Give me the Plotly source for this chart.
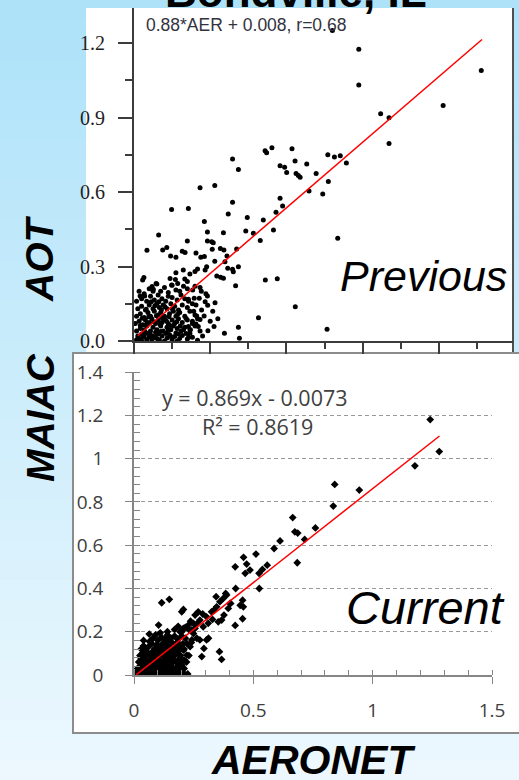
import plotly.graph_objects as go

W, H = 519, 780

# ---------------- data: "Previous" panel (MAIAC vs AERONET AOT) ----------------
PREV_OUTER = [
    (0.781, 1.250), (0.885, 1.175), (0.885, 1.031), (1.367, 1.089), (1.217, 0.948),
    (0.971, 0.915), (1.004, 0.899), (1.004, 0.795), (0.622, 0.774), (0.634, 0.725),
    (0.680, 0.713), (0.763, 0.750), (0.789, 0.741), (0.812, 0.746), (0.836, 0.717),
    (0.717, 0.675), (0.575, 0.706), (0.593, 0.700), (0.601, 0.679), (0.638, 0.675),
    (0.647, 0.666), (0.654, 0.659), (0.765, 0.642), (0.575, 0.575), (0.585, 0.544),
    (0.689, 0.604), (0.743, 0.592), (0.802, 0.414), (0.635, 0.138), (0.760, 0.047),
    (0.388, 0.733), (0.411, 0.691), (0.516, 0.766), (0.522, 0.758), (0.543, 0.778),
]
PREV_MID = [
    (0.260, 0.617), (0.318, 0.626), (0.148, 0.530), (0.214, 0.534), (0.388, 0.559),
    (0.371, 0.511), (0.446, 0.497), (0.277, 0.481), (0.509, 0.487), (0.559, 0.518),
    (0.549, 0.447), (0.097, 0.427), (0.289, 0.439), (0.352, 0.436), (0.440, 0.443),
    (0.470, 0.434), (0.497, 0.405), (0.210, 0.403), (0.289, 0.403), (0.306, 0.400),
    (0.312, 0.396), (0.051, 0.365), (0.129, 0.377), (0.113, 0.366), (0.190, 0.361),
    (0.201, 0.356), (0.244, 0.354), (0.263, 0.337), (0.277, 0.340), (0.308, 0.369),
    (0.340, 0.373), (0.354, 0.366), (0.404, 0.370), (0.318, 0.321), (0.366, 0.342),
    (0.358, 0.319), (0.369, 0.293), (0.388, 0.289), (0.391, 0.279), (0.411, 0.299),
    (0.400, 0.222), (0.286, 0.299), (0.280, 0.286), (0.326, 0.262), (0.341, 0.257),
    (0.352, 0.253), (0.517, 0.246), (0.564, 0.251), (0.490, 0.094), (0.411, 0.055),
    (0.356, 0.031), (0.415, 0.011), (0.315, 0.058), (0.291, 0.041), (0.319, 0.154),
    (0.289, 0.181), (0.290, 0.144), (0.257, 0.172), (0.280, 0.158), (0.276, 0.101),
    (0.244, 0.145), (0.247, 0.101), (0.260, 0.087), (0.244, 0.068), (0.253, 0.058),
    (0.214, 0.168), (0.231, 0.205), (0.237, 0.172), (0.205, 0.091), (0.214, 0.058),
    (0.220, 0.031), (0.039, 0.256), (0.034, 0.246), (0.087, 0.232), (0.071, 0.219),
    (0.076, 0.208), (0.024, 0.181), (0.042, 0.181), (0.165, 0.275), (0.163, 0.248),
    (0.172, 0.232), (0.142, 0.252), (0.148, 0.226), (0.144, 0.342), (0.165, 0.337),
    (0.194, 0.286), (0.220, 0.270), (0.240, 0.280), (0.250, 0.290), (0.200, 0.250),
    (0.210, 0.240), (0.240, 0.220), (0.260, 0.215), (0.265, 0.200), (0.283, 0.190),
    (0.235, 0.120), (0.230, 0.080), (0.222, 0.045), (0.215, 0.015), (0.310, 0.120),
    (0.300, 0.080), (0.330, 0.090), (0.266, 0.125),
]
PREV_CLUSTER = [
    (0.010, 0.005), (0.020, 0.010), (0.030, 0.000), (0.040, 0.020), (0.050, 0.005),
    (0.060, 0.015), (0.070, 0.000), (0.080, 0.020), (0.090, 0.010), (0.100, 0.005),
    (0.110, 0.020), (0.120, 0.000), (0.130, 0.012), (0.140, 0.025), (0.150, 0.005),
    (0.160, 0.018), (0.170, 0.000), (0.180, 0.010), (0.190, 0.022), (0.210, 0.008),
    (0.230, 0.015), (0.250, 0.003), (0.270, 0.020), (0.030, 0.028), (0.015, 0.020),
    (0.055, 0.030), (0.085, 0.035), (0.125, 0.030), (0.165, 0.032), (0.205, 0.030),
    (0.010, 0.040), (0.025, 0.050), (0.040, 0.045), (0.050, 0.060), (0.065, 0.040),
    (0.075, 0.055), (0.090, 0.045), (0.105, 0.060), (0.115, 0.040), (0.130, 0.055),
    (0.145, 0.045), (0.155, 0.060), (0.170, 0.050), (0.185, 0.040), (0.200, 0.055),
    (0.220, 0.045), (0.240, 0.060), (0.260, 0.040), (0.005, 0.070), (0.020, 0.080),
    (0.035, 0.065), (0.045, 0.085), (0.060, 0.075), (0.070, 0.090), (0.085, 0.070),
    (0.095, 0.085), (0.110, 0.075), (0.120, 0.090), (0.135, 0.070), (0.150, 0.085),
    (0.160, 0.070), (0.175, 0.090), (0.190, 0.075), (0.210, 0.085), (0.230, 0.070),
    (0.250, 0.090), (0.010, 0.100), (0.025, 0.110), (0.040, 0.095), (0.055, 0.115),
    (0.065, 0.100), (0.080, 0.120), (0.095, 0.105), (0.105, 0.115), (0.120, 0.100),
    (0.140, 0.110), (0.155, 0.120), (0.165, 0.100), (0.180, 0.115), (0.200, 0.100),
    (0.220, 0.120), (0.240, 0.105), (0.015, 0.130), (0.030, 0.140), (0.045, 0.125),
    (0.060, 0.145), (0.075, 0.130), (0.090, 0.150), (0.100, 0.135), (0.115, 0.145),
    (0.130, 0.130), (0.145, 0.150), (0.160, 0.140), (0.175, 0.125), (0.190, 0.145),
    (0.210, 0.135), (0.230, 0.150), (0.010, 0.160), (0.030, 0.170), (0.050, 0.160),
    (0.065, 0.180), (0.080, 0.165), (0.095, 0.185), (0.110, 0.170), (0.125, 0.160),
    (0.135, 0.180), (0.150, 0.175), (0.170, 0.165), (0.185, 0.185), (0.200, 0.170),
    (0.215, 0.160), (0.020, 0.200), (0.040, 0.190), (0.060, 0.210), (0.075, 0.200),
    (0.090, 0.230), (0.105, 0.200), (0.120, 0.215), (0.135, 0.195), (0.150, 0.225),
    (0.165, 0.205), (0.180, 0.200), (0.195, 0.220), (0.210, 0.210), (0.035, 0.015),
    (0.045, 0.035), (0.065, 0.025), (0.075, 0.012), (0.095, 0.028), (0.105, 0.038),
    (0.135, 0.042), (0.145, 0.018), (0.175, 0.028), (0.195, 0.045), (0.025, 0.062),
    (0.052, 0.072), (0.078, 0.078), (0.102, 0.068), (0.128, 0.080), (0.142, 0.062),
    (0.168, 0.078), (0.182, 0.060), (0.032, 0.092), (0.058, 0.098), (0.088, 0.102),
    (0.112, 0.092), (0.138, 0.098), (0.172, 0.108), (0.048, 0.128), (0.082, 0.142),
    (0.108, 0.125), (0.122, 0.138), (0.152, 0.128), (0.068, 0.158), (0.098, 0.158),
]
prev_fit_x = [0.015, 1.370]
prev_fit_y = [0.021, 1.214]

# ---------------- data: "Current" panel ----------------
CUR_OUTER = [
    (1.241, 1.181), (1.279, 1.033), (1.177, 0.967), (0.944, 0.855), (0.841, 0.881),
    (0.835, 0.781), (0.665, 0.728), (0.674, 0.662), (0.686, 0.656), (0.760, 0.680),
    (0.715, 0.627), (0.612, 0.620), (0.587, 0.585), (0.684, 0.519), (0.424, 0.500),
    (0.459, 0.544), (0.472, 0.513), (0.466, 0.470), (0.486, 0.485), (0.511, 0.559),
    (0.524, 0.470), (0.538, 0.488), (0.558, 0.508), (0.525, 0.400), (0.426, 0.400),
    (0.384, 0.377), (0.388, 0.370), (0.455, 0.346), (0.445, 0.322), (0.458, 0.315),
    (0.455, 0.260), (0.424, 0.229), (0.344, 0.362), (0.360, 0.339), (0.374, 0.354),
    (0.402, 0.331), (0.116, 0.334), (0.148, 0.350), (0.064, 0.189), (0.103, 0.231),
    (0.367, 0.072), (0.358, 0.108), (0.284, 0.085), (0.293, 0.123), (0.312, 0.170),
    (0.304, 0.162),
]
CUR_BAND = [
    (0.200, 0.292), (0.207, 0.303), (0.237, 0.249), (0.249, 0.239), (0.228, 0.231),
    (0.263, 0.236), (0.276, 0.254), (0.256, 0.277), (0.269, 0.292), (0.288, 0.282),
    (0.304, 0.269), (0.325, 0.292), (0.335, 0.300), (0.346, 0.315), (0.329, 0.257),
    (0.353, 0.246), (0.367, 0.254), (0.377, 0.277), (0.395, 0.308), (0.405, 0.331),
    (0.249, 0.192), (0.263, 0.170), (0.276, 0.162), (0.242, 0.162), (0.221, 0.146),
    (0.235, 0.131), (0.207, 0.115), (0.221, 0.092), (0.209, 0.069), (0.200, 0.046),
    (0.186, 0.023), (0.196, 0.005), (0.176, 0.005), (0.165, 0.015), (0.242, 0.208),
    (0.256, 0.216), (0.290, 0.223), (0.311, 0.239), (0.207, 0.216), (0.193, 0.200),
]
CUR_CLUSTER = [
    (0.010, 0.000), (0.020, 0.010), (0.030, 0.000), (0.040, 0.015), (0.050, 0.005),
    (0.060, 0.000), (0.070, 0.012), (0.080, 0.003), (0.090, 0.015), (0.100, 0.000),
    (0.110, 0.010), (0.120, 0.002), (0.130, 0.015), (0.140, 0.005), (0.150, 0.000),
    (0.160, 0.010), (0.170, 0.000), (0.180, 0.005), (0.190, 0.000), (0.200, 0.002),
    (0.055, 0.020), (0.085, 0.022), (0.115, 0.025), (0.145, 0.020), (0.175, 0.018),
    (0.015, 0.030), (0.025, 0.040), (0.035, 0.025), (0.045, 0.045), (0.060, 0.035),
    (0.070, 0.050), (0.080, 0.030), (0.095, 0.045), (0.105, 0.030), (0.120, 0.040),
    (0.130, 0.050), (0.140, 0.035), (0.155, 0.045), (0.165, 0.030), (0.185, 0.040),
    (0.195, 0.050), (0.020, 0.060), (0.030, 0.075), (0.040, 0.055), (0.050, 0.070),
    (0.065, 0.060), (0.075, 0.080), (0.085, 0.065), (0.100, 0.075), (0.110, 0.060),
    (0.125, 0.070), (0.135, 0.080), (0.150, 0.065), (0.160, 0.075), (0.175, 0.060),
    (0.190, 0.075), (0.200, 0.070), (0.025, 0.090), (0.035, 0.100), (0.045, 0.085),
    (0.055, 0.105), (0.070, 0.095), (0.080, 0.110), (0.090, 0.090), (0.105, 0.100),
    (0.115, 0.110), (0.125, 0.090), (0.140, 0.105), (0.150, 0.095), (0.165, 0.110),
    (0.180, 0.100), (0.195, 0.090), (0.030, 0.120), (0.040, 0.135), (0.050, 0.115),
    (0.060, 0.130), (0.075, 0.145), (0.085, 0.120), (0.095, 0.140), (0.110, 0.125),
    (0.120, 0.145), (0.135, 0.130), (0.145, 0.150), (0.160, 0.135), (0.175, 0.145),
    (0.190, 0.130), (0.205, 0.145), (0.040, 0.160), (0.065, 0.155),
    (0.080, 0.170), (0.090, 0.185), (0.100, 0.160), (0.115, 0.175), (0.130, 0.165),
    (0.140, 0.185), (0.155, 0.170), (0.170, 0.180), (0.185, 0.165), (0.200, 0.180),
    (0.215, 0.170), (0.110, 0.195), (0.140, 0.200), (0.170, 0.210), (0.185, 0.225),
    (0.200, 0.200), (0.215, 0.220), (0.230, 0.210),
    (0.012, 0.012), (0.022, 0.022), (0.032, 0.045), (0.042, 0.032), (0.048, 0.062),
    (0.058, 0.048), (0.068, 0.085), (0.072, 0.022), (0.088, 0.052), (0.092, 0.072),
    (0.098, 0.118), (0.108, 0.088), (0.118, 0.052), (0.122, 0.022), (0.128, 0.112),
    (0.138, 0.062), (0.142, 0.092), (0.148, 0.122), (0.152, 0.042), (0.158, 0.152),
    (0.162, 0.062), (0.168, 0.122), (0.172, 0.092), (0.178, 0.032), (0.182, 0.152),
    (0.188, 0.112), (0.210, 0.030), (0.220, 0.060), (0.200, 0.025), (0.230, 0.090),
    (0.210, 0.120), (0.225, 0.005), (0.205, 0.012), (0.240, 0.150),
]
cur_fit_x = [0.010, 1.280]
cur_fit_y = [0.0014, 1.105]

site_title = "Bondville, IL"
prev_eq = "0.88*AER + 0.008, r=0.68"
cur_eq1 = "y = 0.869x - 0.0073"
cur_eq2 = "R\u00b2 = 0.8619"

# ---------------- helpers (pixel -> paper) ----------------
def fx(p):
    return p / W

def fy(p):
    return 1 - p / H

prev_pts = PREV_OUTER + PREV_MID + PREV_CLUSTER
cur_pts = CUR_OUTER + CUR_BAND + CUR_CLUSTER

fig = go.Figure()
fig.add_trace(go.Scatter(
    x=[p[0] for p in prev_pts], y=[p[1] for p in prev_pts], mode="markers",
    marker=dict(color="black", size=5, symbol="circle", line=dict(width=0)),
    xaxis="x", yaxis="y", hoverinfo="skip"))
fig.add_trace(go.Scatter(
    x=prev_fit_x, y=prev_fit_y, mode="lines", line=dict(color="#ff0000", width=1.5),
    xaxis="x", yaxis="y", hoverinfo="skip"))
fig.add_trace(go.Scatter(
    x=[p[0] for p in cur_pts], y=[p[1] for p in cur_pts], mode="markers",
    marker=dict(color="black", size=6, symbol="diamond", line=dict(width=0)),
    xaxis="x2", yaxis="y2", hoverinfo="skip"))
fig.add_trace(go.Scatter(
    x=cur_fit_x, y=cur_fit_y, mode="lines", line=dict(color="#ff0000", width=1.5),
    xaxis="x2", yaxis="y2", hoverinfo="skip"))

# background gradient + panels
shapes = []
c0 = (173, 226, 249)
c1 = (236, 248, 254)
n = 39
for i in range(n):
    t = i / (n - 1)
    col = "rgb(%d,%d,%d)" % tuple(round(a + (b - a) * t) for a, b in zip(c0, c1))
    shapes.append(dict(type="rect", xref="paper", yref="paper", layer="below",
                       x0=0, x1=1, y0=fy(i * 20), y1=fy(i * 20 + 21),
                       fillcolor=col, line=dict(width=0)))
# top panel white area
shapes.append(dict(type="rect", xref="paper", yref="paper", layer="below",
                   x0=fx(86), x1=fx(513), y0=fy(360), y1=fy(8),
                   fillcolor="white", line=dict(width=0)))
shapes.append(dict(type="line", xref="paper", yref="paper", layer="below",
                   x0=fx(513), x1=fx(513), y0=fy(360), y1=fy(8),
                   line=dict(color="#505050", width=2)))
# lower panel box
shapes.append(dict(type="rect", xref="paper", yref="paper", layer="below",
                   x0=fx(73), x1=fx(524), y0=fy(733), y1=fy(353),
                   fillcolor="white", line=dict(color="#8c8c8c", width=2)))

annotations = [
    dict(text="<b>%s</b>" % site_title, x=fx(296), y=fy(-9), xref="paper", yref="paper",
         xanchor="center", yanchor="middle", showarrow=False,
         font=dict(family="Liberation Sans", size=44, color="black")),
    dict(text=prev_eq, x=fx(144), y=fy(24.5), xref="paper", yref="paper",
         xanchor="left", yanchor="middle", showarrow=False,
         font=dict(family="Liberation Sans", size=17.5, color="#333340")),
    dict(text="<i>Previous</i>", x=fx(423), y=fy(276), xref="paper", yref="paper",
         xanchor="center", yanchor="middle", showarrow=False,
         font=dict(family="Liberation Sans", size=43, color="black")),
    dict(text=cur_eq1, x=fx(255), y=fy(397), xref="paper", yref="paper",
         xanchor="center", yanchor="middle", showarrow=False,
         font=dict(family="Open Sans", size=21.5, color="#404040")),
    dict(text=cur_eq2, x=fx(257), y=fy(426.5), xref="paper", yref="paper",
         xanchor="center", yanchor="middle", showarrow=False,
         font=dict(family="Open Sans", size=21.5, color="#404040")),
    dict(text="<i>Current</i>", x=fx(425), y=fy(607.5), xref="paper", yref="paper",
         xanchor="center", yanchor="middle", showarrow=False,
         font=dict(family="Liberation Sans", size=47, color="black")),
    dict(text="<b><i>MAIAC</i></b>", x=fx(40), y=fy(418), xref="paper", yref="paper",
         xanchor="center", yanchor="middle", showarrow=False, textangle=-90,
         font=dict(family="Liberation Sans", size=39, color="black")),
    dict(text="<b><i>AOT</i></b>", x=fx(40), y=fy(259), xref="paper", yref="paper",
         xanchor="center", yanchor="middle", showarrow=False, textangle=-90,
         font=dict(family="Liberation Sans", size=39, color="black")),
    dict(text="<b><i>AERONET</i></b>", x=fx(313), y=fy(760), xref="paper", yref="paper",
         xanchor="center", yanchor="middle", showarrow=False,
         font=dict(family="Liberation Sans", size=41, color="black")),
]

top_ax_col = "#3c3c3c"
low_ax_col = "#868686"

fig.update_layout(
    template="none",
    width=W, height=H, margin=dict(l=0, r=0, t=0, b=0, pad=0, autoexpand=False),
    paper_bgcolor="rgb(205,238,252)", plot_bgcolor="rgba(0,0,0,0)",
    showlegend=False, shapes=shapes, annotations=annotations,
    xaxis=dict(domain=[fx(134), fx(513)], range=[0, 1.492], anchor="y",
               automargin=False,
               showgrid=False, zeroline=False, showline=True, linecolor=top_ax_col,
               linewidth=2, ticks="outside", ticklen=11, tickwidth=1.5,
               tickcolor=top_ax_col, tick0=0, dtick=0.3, showticklabels=False,
               minor=dict(dtick=0.15, ticks="outside", ticklen=6, tickwidth=1.5,
                          tickcolor=top_ax_col, showgrid=False)),
    yaxis=dict(domain=[fy(341), fy(8)], range=[0, 1.341], anchor="x",
               automargin=False,
               showgrid=False, zeroline=False, showline=True, linecolor=top_ax_col,
               linewidth=2, ticks="outside", ticklen=14, tickwidth=1.5,
               tickcolor=top_ax_col, tick0=0, dtick=0.3, tickformat=".1f",
               ticklabelstandoff=9,
               tickfont=dict(family="Liberation Serif", size=20, color="#1e1e1e"),
               minor=dict(dtick=0.15, ticks="outside", ticklen=7, tickwidth=1.5,
                          tickcolor=top_ax_col, showgrid=False)),
    xaxis2=dict(domain=[fx(134), fx(492)], range=[0, 1.5], anchor="y2",
                automargin=False,
                showgrid=False, zeroline=False, showline=True, linecolor=low_ax_col,
                linewidth=1.5, ticks="outside", ticklen=7, tickwidth=1.2,
                tickcolor=low_ax_col, tick0=0, dtick=0.5, ticklabelstandoff=10,
                tickfont=dict(family="Open Sans", size=19, color="#404040"),
                minor=dict(dtick=0.1, ticks="inside", ticklen=5, tickwidth=1.2,
                           tickcolor=low_ax_col, showgrid=False)),
    yaxis2=dict(domain=[fy(675), fy(372)], range=[0, 1.401], anchor="x2",
                automargin=False,
                showgrid=True, gridcolor="#9a9a9a", gridwidth=1, griddash="4px,3px",
                zeroline=False, showline=True, linecolor=low_ax_col, linewidth=1.5,
                ticks="outside", ticklen=7, tickwidth=1.2, tickcolor=low_ax_col,
                tick0=0, dtick=0.2, ticklabelstandoff=18,
                tickfont=dict(family="Open Sans", size=19, color="#404040"),
                minor=dict(dtick=0.04, ticks="inside", ticklen=6, tickwidth=1.2,
                           tickcolor=low_ax_col, showgrid=False)),
)

fig.write_html("out.html")
